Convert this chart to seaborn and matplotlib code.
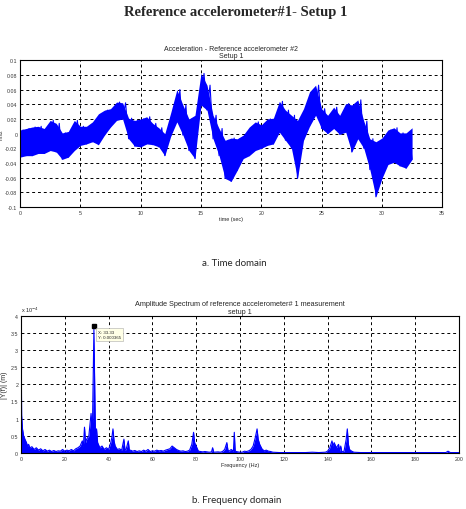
import matplotlib
matplotlib.use("Agg")
import matplotlib.pyplot as plt
import matplotlib.ticker as mticker
import numpy as np
import pandas as pd
import seaborn as sns

# Time domain: envelope of the acceleration band, read every 0.5 s
time_step = 0.5
accel_hi = [0.005, 0.007, 0.009, 0.010, 0.007, 0.018, 0.014, 0.001, 0.003, 0.018,
            0.010, 0.010, 0.016, 0.027, 0.032, 0.034, 0.043, 0.042, 0.021, 0.018,
            0.020, 0.023, 0.014, 0.008, 0.000, 0.029, 0.060, 0.039, 0.020, 0.025,
            0.082, 0.066, 0.025, 0.007, -0.009, -0.006, -0.007, -0.002, 0.009, 0.016,
            0.012, 0.020, 0.021, 0.044, 0.032, 0.025, 0.018, 0.034, 0.057, 0.066,
            0.034, 0.025, 0.036, 0.025, 0.041, 0.039, 0.046, 0.017, -0.007, -0.011,
            -0.006, 0.005, 0.008, 0.001, 0.001, 0.008]
accel_lo = [-0.032, -0.030, -0.030, -0.027, -0.027, -0.023, -0.025, -0.035, -0.032, -0.023,
            -0.016, -0.014, -0.011, -0.015, -0.002, 0.009, 0.018, 0.020, -0.007, -0.017,
            -0.018, -0.014, -0.015, -0.018, -0.030, -0.003, 0.016, -0.002, -0.023, -0.034,
            0.039, 0.032, -0.007, -0.030, -0.061, -0.065, -0.050, -0.034, -0.030, -0.023,
            -0.020, -0.016, -0.014, 0.002, -0.009, -0.020, -0.061, -0.009, 0.010, 0.025,
            0.007, 0.000, 0.007, -0.001, 0.002, -0.025, -0.007, -0.020, -0.049, -0.086,
            -0.061, -0.042, -0.039, -0.044, -0.047, -0.035]

# Frequency domain: amplitude spectrum (units of 1e-4 m)
freq_hz = [0, 0.3, 0.7, 1.2, 1.8, 2.5, 3, 3.5, 4, 5, 6, 7, 8, 9, 10, 11, 12, 13, 14, 15,
           16, 17, 18, 19, 20, 21, 22, 23, 24, 25, 26, 27, 28, 28.5, 29, 29.5, 30, 31,
           32, 32.6, 33.3, 33.7, 34, 34.5, 35, 36, 37, 38, 39, 40, 41, 41.5, 42, 42.5,
           43, 44, 45, 46, 47, 47.5, 48, 49, 49.5, 50, 51, 52, 53, 54, 55, 56, 57, 58,
           59, 60, 61, 62, 63, 64, 65, 66, 67, 68, 69, 70, 71, 72, 73, 74, 75, 76, 77,
           78, 78.8, 79.3, 80, 81, 82, 83, 84, 85, 86, 87, 87.5, 88, 90, 91, 92, 93, 94,
           94.5, 95, 96, 97, 97.4, 97.8, 99, 100, 101, 102, 103, 104, 105, 106, 107,
           107.8, 108.3, 109, 110, 111, 112, 113, 114, 115, 118, 125, 130, 133, 136,
           139, 140, 141, 142, 142.5, 143, 144, 145, 145.5, 146, 146.5, 147.5, 148.5,
           149, 149.5, 150, 151, 152, 155, 170, 185, 194, 195, 196, 200]
amp_e4 = [4.0, 1.1, 0.7, 0.5, 0.4, 0.3, 0.2, 0.25, 0.15, 0.18, 0.1, 0.15, 0.08, 0.12, 0.06,
          0.1, 0.05, 0.08, 0.04, 0.07, 0.04, 0.06, 0.05, 0.1, 0.05, 0.08, 0.06, 0.1, 0.06,
          0.12, 0.15, 0.2, 0.35, 0.2, 0.75, 0.3, 0.4, 0.5, 1.15, 0.6, 3.6, 1.8, 0.5, 0.7,
          0.3, 0.15, 0.2, 0.1, 0.15, 0.1, 0.3, 0.45, 0.7, 0.35, 0.2, 0.1, 0.12, 0.08, 0.4,
          0.08, 0.1, 0.35, 0.06, 0.08, 0.05, 0.07, 0.04, 0.06, 0.04, 0.08, 0.05, 0.1, 0.04,
          0.06, 0.05, 0.08, 0.06, 0.07, 0.05, 0.08, 0.1, 0.12, 0.2, 0.15, 0.1, 0.07, 0.05,
          0.06, 0.04, 0.05, 0.08, 0.25, 0.6, 0.3, 0.2, 0.05, 0.04, 0.03, 0.04, 0.03, 0.02,
          0.03, 0.15, 0.02, 0.03, 0.02, 0.04, 0.1, 0.3, 0.08, 0.05, 0.1, 0.05, 0.6, 0.05,
          0.03, 0.02, 0.02, 0.05, 0.04, 0.06, 0.1, 0.2, 0.45, 0.7, 0.4, 0.25, 0.12, 0.06,
          0.08, 0.05, 0.04, 0.02, 0.01, 0.01, 0.01, 0.02, 0.01, 0.02, 0.05, 0.15, 0.35,
          0.2, 0.3, 0.15, 0.25, 0.05, 0.2, 0.03, 0.05, 0.4, 0.7, 0.25, 0.1, 0.05, 0.02,
          0.01, 0.01, 0.01, 0.01, 0.05, 0.01, 0.01]
tip_x, tip_y = 33.33, 3.7

sns.set_theme(style="white")
plt.rcParams['font.family'] = ['Liberation Sans', 'DejaVu Sans']

fig = plt.figure(figsize=(4.66, 5.10), dpi=100)
ax1 = fig.add_axes([0.043, 0.592, 0.906, 0.288])
ax2 = fig.add_axes([0.045, 0.110, 0.940, 0.269])

blue = "#0000ff"

# ---- time domain
t = np.arange(len(accel_hi)) * time_step
# zig-zag between the envelope values to mimic the dense signal
zig_t = np.empty(2 * len(t))
zig_v = np.empty(2 * len(t))
zig_t[0::2] = t
zig_t[1::2] = t + time_step / 2
zig_v[0::2] = accel_lo
zig_v[1::2] = accel_hi
zig = pd.DataFrame({"time": zig_t[:-1], "acc": zig_v[:-1]})
ax1.fill_between(t, accel_lo, accel_hi, color=blue, lw=0)
sns.lineplot(data=zig, x="time", y="acc", ax=ax1, color=blue, lw=0.8, estimator=None, sort=False)

ax1.set_xlim(0, 35)
ax1.set_ylim(-0.1, 0.1)
ax1.set_xticks(np.arange(0, 36, 5))
ax1.set_yticks(np.arange(-0.1, 0.101, 0.02))
ax1.yaxis.set_major_formatter(mticker.FuncFormatter(lambda v, p: f"{round(v, 2):g}"))
ax1.set_xlabel("time (sec)", fontsize=4, labelpad=1)
ax1.set_ylabel("m/s2", fontsize=3.5, labelpad=1)
ax1.set_title("Acceleration - Reference accelerometer #2\nSetup 1", fontsize=5, pad=2,
              linespacing=1.1)

# ---- frequency domain
spec = pd.DataFrame({"freq": freq_hz, "amp": amp_e4})
ax2.fill_between(spec["freq"], 0, spec["amp"], color=blue, lw=0)
sns.lineplot(data=spec, x="freq", y="amp", ax=ax2, color=blue, lw=0.8, estimator=None)
ax2.plot([tip_x], [tip_y], marker="s", color="black", ms=3)
ax2.text(tip_x + 1.8, tip_y - 0.12, "X: 33.33\nY: 0.000365", fontsize=3.2, va="top",
         ha="left", linespacing=1.3,
         bbox=dict(boxstyle="square,pad=0.5", fc="#ffffe6", ec="#aaaaaa", lw=0.4))
ax2.set_xlim(0, 200)
ax2.set_ylim(0, 4)
ax2.set_xticks(np.arange(0, 201, 20))
ax2.set_yticks(np.arange(0, 4.01, 0.5))
ax2.yaxis.set_major_formatter(mticker.FuncFormatter(lambda v, p: f"{v:g}"))
ax2.set_xlabel("Frequency (Hz)", fontsize=4, labelpad=1)
ax2.set_ylabel("|Y(f)| (m)", fontsize=5, labelpad=2)
ax2.set_title("Amplitude Spectrum of reference accelerometer# 1 measurement\nsetup 1",
              fontsize=5.2, pad=2, linespacing=1.1)
ax2.text(0.0, 1.01, r"x 10$^{-4}$", transform=ax2.transAxes, fontsize=4, va="bottom")

for ax in (ax1, ax2):
    ax.grid(True, color="black", linestyle=(0, (3, 3)), lw=0.7)
    ax.tick_params(labelsize=3.8, length=2, width=0.5, direction="in", pad=2,
                   colors="#333333")
    for s in ax.spines.values():
        s.set_color("black")
        s.set_linewidth(0.8)

fig.text(0.505, 0.976, "Reference accelerometer#1- Setup 1", ha="center", va="center",
         fontsize=10.5, fontweight="bold", family="Liberation Serif")
fig.text(0.502, 1 - 263 / 510, "a. Time domain", ha="center", va="center", fontsize=7,
         family="Lato")
fig.text(0.508, 1 - 501 / 510, "b. Frequency domain", ha="center", va="center",
         fontsize=7, family="Lato")

fig.savefig("out.png", dpi=100)
